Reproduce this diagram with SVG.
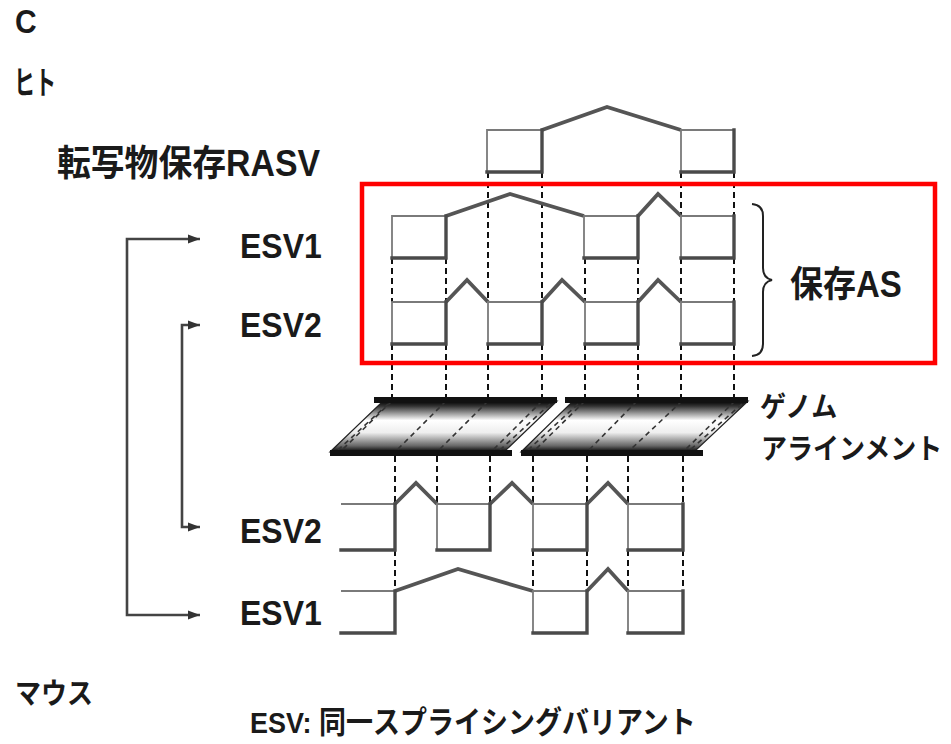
<svg xmlns="http://www.w3.org/2000/svg" width="951" height="744" viewBox="0 0 951 744">
<style>
.t{font-family:"Liberation Sans","Noto Sans CJK JP",sans-serif;font-weight:bold;fill:#1a1a1a}
.thin{stroke:#7a7a7a;stroke-width:1.8;fill:none}
.thick{stroke:#4a4a4a;stroke-width:3.4;fill:none;stroke-linecap:square;stroke-linejoin:miter}
.intron{stroke:#555;stroke-width:3.8;fill:none;stroke-linejoin:miter}
.dash{stroke:#111;stroke-width:2;stroke-dasharray:6 4;fill:none}
.ddash{stroke:#333;stroke-width:1.6;stroke-dasharray:5 4;fill:none}
.arr{stroke:#444;stroke-width:2.6;fill:none}
.bar{fill:#111}
</style>
<defs>
<marker id="ah" viewBox="0 0 12 10" refX="12" refY="5" markerWidth="12" markerHeight="10" markerUnits="userSpaceOnUse" orient="auto-start-reverse">
<path d="M0,0.5 L12,5 L0,9.5 Z" fill="#333"/>
</marker>
<linearGradient id="gg" x1="0" y1="0" x2="0" y2="1">
<stop offset="0" stop-color="#000"/>
<stop offset="0.1" stop-color="#333"/>
<stop offset="0.38" stop-color="#fff"/>
<stop offset="0.62" stop-color="#eee"/>
<stop offset="0.88" stop-color="#666"/>
<stop offset="1" stop-color="#000"/>
</linearGradient>
</defs>
<rect width="951" height="744" fill="#fff"/>

<g id="labels">
<text class="t" font-size="30" transform="translate(15,33) scale(1,1.1)">C</text>
<text class="t" font-size="29" textLength="42" lengthAdjust="spacingAndGlyphs" transform="translate(14,94) scale(1,1.1)">ヒト</text>
<text class="t" font-size="33" textLength="263" lengthAdjust="spacingAndGlyphs" transform="translate(57,176) scale(1,1.1)">転写物保存RASV</text>
<text class="t" font-size="26" transform="translate(15,704) scale(1,1.12)">マウス</text>
<text class="t" font-size="27" transform="translate(250,733) scale(1,1.12)">ESV: 同一スプライシングバリアント</text>
</g>

<g id="connectors">
<path class="arr" d="M200,239 H127 V615 H200" marker-start="url(#ah)" marker-end="url(#ah)"/>
<path class="arr" d="M200,325 H182 V527 H200" marker-start="url(#ah)" marker-end="url(#ah)"/>
<path class="dash" d="M392,258V302M392,344V397M446,258V302M446,344V397M488,172V302M488,344V397M542,172V302M542,344V397M585,258V302M585,344V397M638,258V302M638,344V397M681,172V216M681,258V302M681,344V397M734,172V216M734,258V302M734,344V397"/>
<path class="dash" d="M395,456V504M395,550V591M437,456V504M490,456V504M533,456V504M533,550V591M587,456V504M587,550V591M628,456V504M628,550V591M683,456V504M683,550V591"/>
</g>

<g id="human-rasv">
<path class="intron" d="M542,130 L607,107 L681,130"/>
<path class="thin" d="M487,172V130H542M681,172V130H734"/>
<path class="thick" d="M487,172H542V130M681,172H734V130"/>
</g>

<g id="human-esv1">
<path class="intron" d="M446,216 L510,194 L584,216M638,216 L658,194 L681,216"/>
<path class="thin" d="M392,258V216H446M584,258V216H638M681,258V216H734"/>
<path class="thick" d="M392,258H446V216M584,258H638V216M681,258H734V216"/>
</g>

<g id="human-esv2">
<path class="intron" d="M446,302 L467,280 L488,302M542,302 L562,280 L585,302M638,302 L658,280 L681,302"/>
<path class="thin" d="M392,344V302H446M488,344V302H542M585,344V302H638M681,344V302H734"/>
<path class="thick" d="M392,344H446V302M488,344H542V302M585,344H638V302M681,344H734V302"/>
</g>

<g id="genome-alignment">
<polygon points="383,401 557,401 504,452 330,452" fill="url(#gg)" stroke="#222" stroke-width="1.2"/>
<polygon points="573,401 748,401 694,452 521,452" fill="url(#gg)" stroke="#222" stroke-width="1.2"/>
<path class="ddash" d="M388,404 L338,450M392,401 L340,452M446,401 L395,452M488,401 L437,452M542,401 L491,452M550,404 L500,450"/>
<path class="ddash" d="M578,404 L528,450M585,401 L533,452M637,401 L587,452M682,401 L628,452M735,401 L683,452M742,404 L690,450"/>
<rect class="bar" x="374" y="397" width="183" height="6"/>
<rect class="bar" x="565" y="397" width="183" height="6"/>
<rect class="bar" x="330" y="450" width="182" height="6"/>
<rect class="bar" x="521" y="450" width="182" height="6"/>
<text class="t" font-size="26" transform="translate(760,417) scale(1,1.1)">ゲノム</text>
<text class="t" font-size="26" transform="translate(761,459) scale(1,1.1)">アラインメント</text>
</g>

<g id="mouse-esv2">
<path class="intron" d="M395,504 L416,483 L437,504M490,504 L512,483 L533,504M587,504 L608,483 L628,504"/>
<path class="thin" d="M341,504H395M437,550V504H490M533,550V504H587M628,550V504H683"/>
<path class="thick" d="M341,550H395V504M437,550H490V504M533,550H587V504M628,550H683V504"/>
</g>

<g id="mouse-esv1">
<path class="intron" d="M395,591 L458,569 L533,591M587,591 L608,569 L628,591"/>
<path class="thin" d="M341,591H395M533,633V591H587M628,633V591H683"/>
<path class="thick" d="M341,633H395V591M533,633H587V591M628,633H683V591"/>
</g>

<g id="esv-labels">
<text class="t" font-size="32" transform="translate(240,258) scale(1,1.12)">ESV1</text>
<text class="t" font-size="32" transform="translate(240,337) scale(1,1.12)">ESV2</text>
<text class="t" font-size="32" transform="translate(240,543) scale(1,1.12)">ESV2</text>
<text class="t" font-size="32" transform="translate(240,625) scale(1,1.12)">ESV1</text>
</g>

<g id="conserved-as">
<rect x="362" y="184" width="573" height="179" fill="none" stroke="#ff0000" stroke-width="4.5"/>
<path d="M752,204 Q763,205 763,216 V268 Q763,278 772,280 Q763,282 763,292 V344 Q763,355 752,356" fill="none" stroke="#222" stroke-width="2"/>
<text class="t" font-size="33" transform="translate(790,297) scale(1,1.1)">保存AS</text>
</g>
</svg>
